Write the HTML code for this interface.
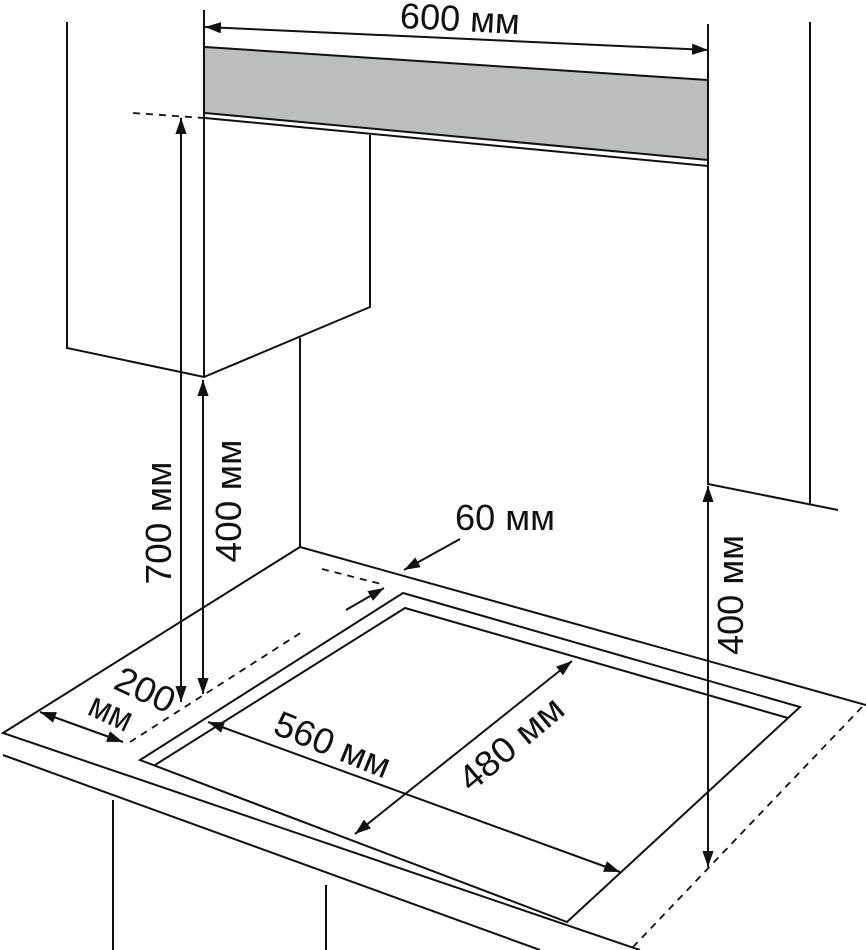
<!DOCTYPE html>
<html><head><meta charset="utf-8"><style>
html,body{margin:0;padding:0;background:#fff}
svg{display:block}
text{font-family:"Liberation Sans","DejaVu Sans",sans-serif;font-size:36px;fill:#111}
</style></head><body>
<svg width="866" height="950" viewBox="0 0 866 950" xmlns="http://www.w3.org/2000/svg">
<defs>
<marker id="a" viewBox="0 0 10 10" refX="10" refY="5" markerWidth="16" markerHeight="16" markerUnits="userSpaceOnUse" orient="auto-start-reverse">
<path d="M0,1.5 L10,5 L0,8.5 z" fill="#111"/>
</marker>
</defs>
<g stroke="#111" stroke-width="2" fill="none">
<polygon points="205,47 708,80 708,160 205,113" fill="#bcbebe" stroke="none"/>
<line x1="205" y1="47" x2="708" y2="80"/>
<line x1="205" y1="113" x2="708" y2="160"/>
<line x1="205" y1="118" x2="708" y2="166"/>
<polyline points="67,22 67,348 204,377 370,307 370,135"/>
<line x1="204" y1="10" x2="204" y2="377"/>
<line x1="300" y1="338" x2="300" y2="547"/>
<line x1="708" y1="24" x2="708" y2="485"/>
<line x1="810" y1="22" x2="810" y2="504"/>
<line x1="708" y1="484" x2="838" y2="510"/>
<polyline points="866,705 300,547 3,733 640,950"/>
<line x1="3" y1="755" x2="540" y2="950"/>
<line x1="113" y1="800" x2="113" y2="950"/>
<line x1="326" y1="885" x2="326" y2="950"/>
<polygon points="403,593 800,707 567,922 140,760"/>
<polyline points="155,765 405,608 788,718"/>
<g stroke-dasharray="7,6" stroke-width="1.8">
<line x1="133" y1="113" x2="204" y2="118"/>
<line x1="862" y1="707" x2="633" y2="947"/>
<line x1="130" y1="742" x2="302" y2="632"/>
<line x1="322" y1="569" x2="385" y2="585"/>
</g>
<line x1="205" y1="27" x2="708" y2="50" marker-start="url(#a)" marker-end="url(#a)"/>
<line x1="181" y1="118" x2="181" y2="702" marker-start="url(#a)" marker-end="url(#a)"/>
<line x1="203" y1="380" x2="203" y2="694" marker-start="url(#a)" marker-end="url(#a)"/>
<line x1="708" y1="486" x2="708" y2="867" marker-start="url(#a)" marker-end="url(#a)"/>
<line x1="40" y1="712" x2="123" y2="742" marker-start="url(#a)" marker-end="url(#a)"/>
<line x1="208" y1="722" x2="620" y2="872" marker-start="url(#a)" marker-end="url(#a)"/>
<line x1="355" y1="834" x2="572" y2="661" marker-start="url(#a)" marker-end="url(#a)"/>
<line x1="460" y1="539" x2="404" y2="570" marker-end="url(#a)"/>
<line x1="346" y1="610" x2="384" y2="588" marker-end="url(#a)"/>
</g>
<text x="460" y="31" text-anchor="middle" textLength="120" lengthAdjust="spacingAndGlyphs" transform="rotate(3 460 18)">600 мм</text>
<text x="505" y="530" text-anchor="middle" textLength="100" lengthAdjust="spacingAndGlyphs">60 мм</text>
<text transform="translate(171,523) rotate(-90)" text-anchor="middle" textLength="123" lengthAdjust="spacingAndGlyphs">700 мм</text>
<text transform="translate(241,501) rotate(-90)" text-anchor="middle" textLength="123" lengthAdjust="spacingAndGlyphs">400 мм</text>
<text transform="translate(743,595) rotate(-90)" text-anchor="middle" textLength="120" lengthAdjust="spacingAndGlyphs">400 мм</text>
<text transform="translate(328,756) rotate(22)" text-anchor="middle" textLength="122" lengthAdjust="spacingAndGlyphs">560 мм</text>
<text transform="translate(519,753) rotate(-40)" text-anchor="middle" textLength="125" lengthAdjust="spacingAndGlyphs">480 мм</text>
<text transform="translate(140,701) rotate(25)" text-anchor="middle" textLength="62" lengthAdjust="spacingAndGlyphs">200</text>
<text transform="translate(106,723) rotate(25)" text-anchor="middle" textLength="44" lengthAdjust="spacingAndGlyphs">мм</text>
</svg>
</body></html>
